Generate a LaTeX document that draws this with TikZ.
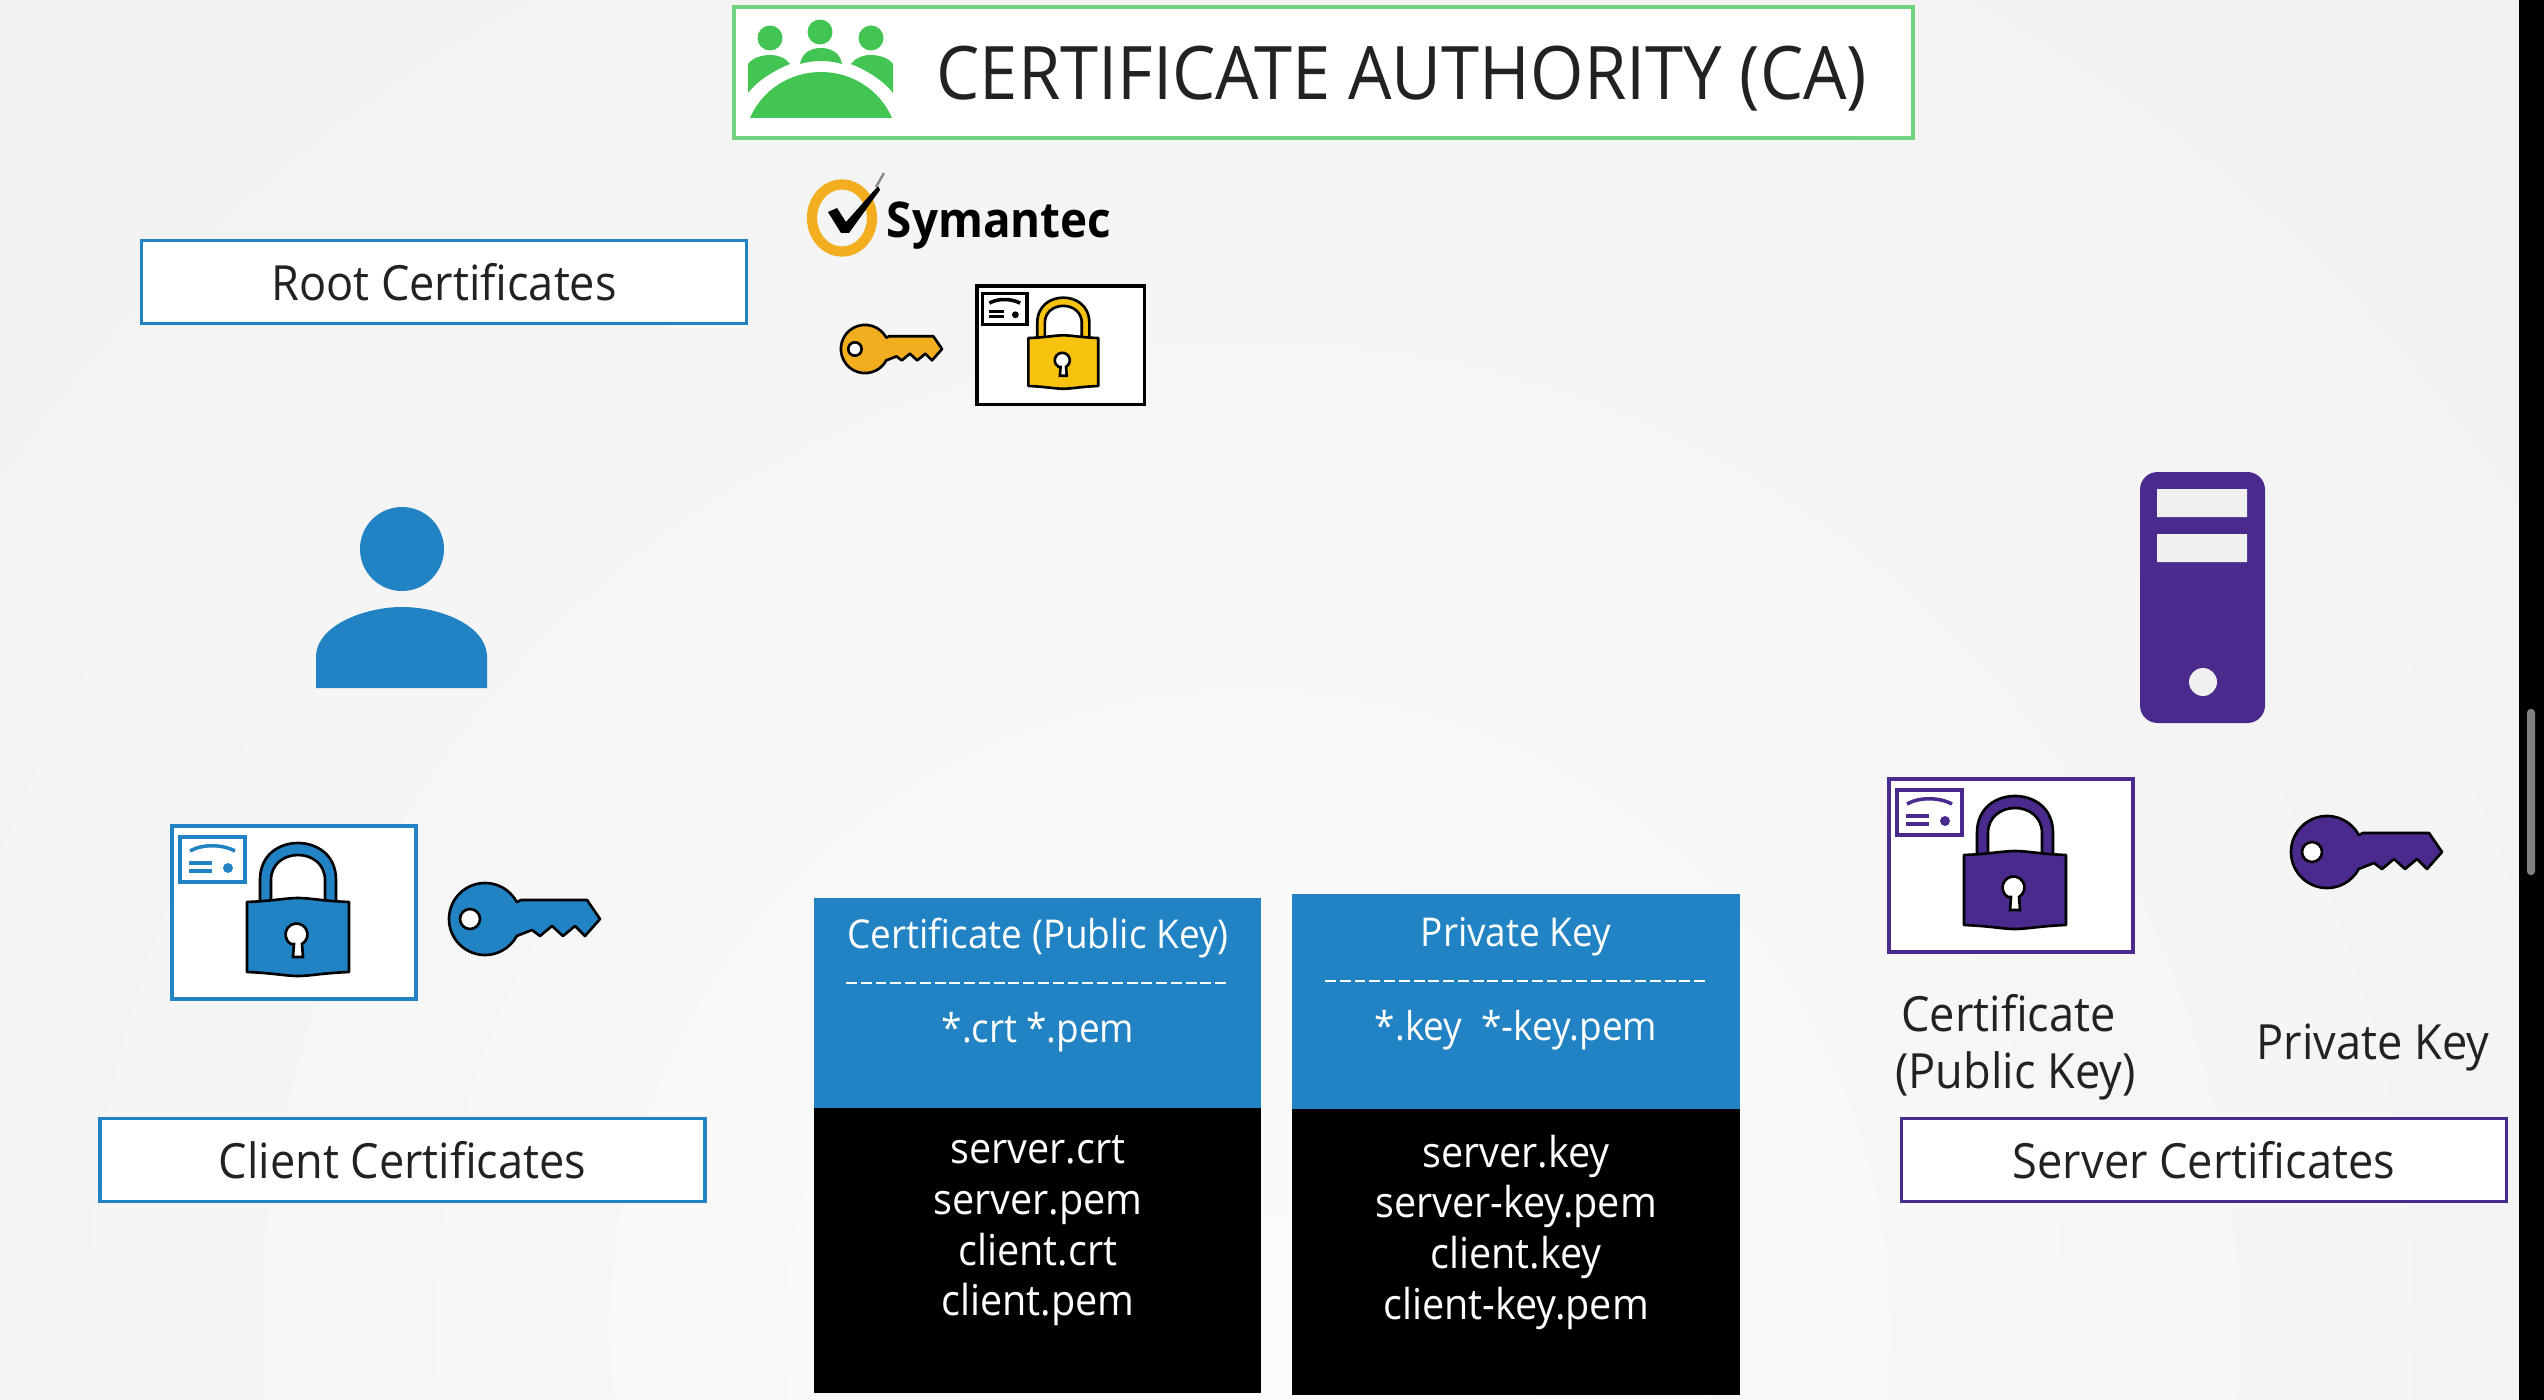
\documentclass[tikz,border=0pt]{standalone}
\usepackage{fontspec}
\setmainfont[FakeStretch=0.93]{Open Sans}
\usetikzlibrary{positioning}
\definecolor{caBlue}{HTML}{2183C3}
\definecolor{caPurple}{HTML}{4A2A8C}
\definecolor{caGreen}{HTML}{43C553}
\definecolor{caYellow}{HTML}{F8C30E}
\definecolor{caGold}{HTML}{F2AE1F}
\definecolor{caInk}{HTML}{222222}
\tikzset{
  lblbox/.style   = {draw=#1, fill=white, line width=0.9pt, minimum width=172pt, text=caInk,
                     minimum height=23.5pt, inner sep=0pt, font=\fontsize{13.8}{16}\selectfont},
  cellhead/.style = {white, font=\fontsize{11.3}{14}\selectfont},
  cellfile/.style = {white, font=\fontsize{12.1}{14.4}\selectfont, align=center},
  lbl/.style      = {text=caInk, font=\fontsize{13.8}{16.2}\selectfont, align=center},
  celldash/.style = {white, line width=0.8pt, dash pattern=on 3.1pt off 1.1pt},
  pics/keyicon/.style = {code={
    \draw[fill=#1, line width=0.75pt, line join=round]
      (31.8,-16.9) arc[start angle=-28, end angle=-332, radius=36]
      -- (47,11) -- (55,17) -- (67,7) -- (78,17) -- (90,7) -- (100,17)
      -- (115,0) -- (102,-19) -- (36,-19) -- cycle;
    \draw[fill=white, line width=0.75pt] (-15,0) circle (10);
  }},
  pics/certicon/.style 2 args = {code={
    \draw[#1, fill=white, line width=0.9pt] (0,0) rectangle (244,173);
    % small card in the corner
    \draw[#1, line width=1pt] (8,11) rectangle (73,56);
    \draw[#1, line width=1pt] (18,25) .. controls (30,18) and (50,18) .. (63,25);
    \draw[#1, line width=0.9pt] (17,37) -- (40,37) (17,45) -- (40,45);
    \fill[#1] (56,42) circle (5);
    % padlock
    \begin{scope}[shift={(126,76)}]
      \draw[fill=#2, line width=0.75pt, line join=round]
        (-38,0) -- (-38,-22) .. controls (-38,-48) and (-18,-59) .. (0,-59)
        .. controls (18,-59) and (38,-48) .. (38,-22) -- (38,0) -- (27,0) -- (27,-22)
        .. controls (27,-38) and (14,-47) .. (0,-47) .. controls (-14,-47) and (-27,-38) .. (-27,-22)
        -- (-27,0) -- cycle;
      \draw[fill=#2, line width=0.75pt, line join=round]
        (-51,0) .. controls (-25,-1) and (-12,-4) .. (0,-4) .. controls (12,-4) and (25,-1) .. (51,0)
        -- (51,70) .. controls (25,71) and (12,74) .. (0,74) .. controls (-12,74) and (-25,71) .. (-51,70) -- cycle;
      \draw[fill=white, line width=0.75pt] (-4,42) -- (-5,55) -- (5,55) -- (4,42)
        arc[start angle=60, end angle=-240, radius=11] -- cycle;
    \end{scope}
  }},
}
\begin{document}
\begin{tikzpicture}[x=0.01cm,y=-0.01cm]
  \useasboundingbox (0,0) rectangle (2544,1400);
  \fill[black!6] (0,0) rectangle (2544,1400);
  \begin{scope}
    \clip (0,0) rectangle (2544,1400);
    \shade[inner color=black!1.5, outer color=black!6] (1250,1330) circle (2000);
  \end{scope}
  \fill[black] (2519,0) rectangle (2544,1400);
  \fill[black!50, rounded corners=1pt] (2527,709) rectangle (2535,875);

  % title
  \node[draw=caGreen!75, fill=white, line width=1pt, minimum width=1179*0.01cm, minimum height=131*0.01cm,
        inner sep=0pt] (titlebox) at (1323.5,72.5) {};
  \node[anchor=base, text=caInk, font=\fontsize{21}{24}\selectfont] (titletxt) at (1402,100) {CERTIFICATE AUTHORITY (CA)};
  \fill[caGreen] (820,32) circle (12.5) (770,38) circle (12.5) (871,38) circle (12.5);
  \fill[caGreen] (800,64) .. controls (802,52) and (812,48) .. (821,48) .. controls (830,48) and (840,52) .. (842,64)
    .. controls (828,60) and (814,60) .. (800,64) -- cycle;
  \fill[caGreen] (748,93) -- (748,64) .. controls (752,58) and (762,55) .. (770,55)
    .. controls (778,55) and (786,58) .. (790,64) .. controls (775,70) and (758,80) .. (748,93) -- cycle;
  \fill[caGreen] (893,93) -- (893,64) .. controls (889,58) and (879,55) .. (871,55)
    .. controls (863,55) and (855,58) .. (851,64) .. controls (866,70) and (883,80) .. (893,93) -- cycle;
  \fill[caGreen] (750,118) .. controls (762,90) and (790,72) .. (821,72)
    .. controls (852,72) and (880,90) .. (892,118) -- cycle;

  % vendor mark
  \draw[caGold, line width=2.9pt] (842,218) ellipse (30 and 33.5);
  \fill[black] (828,212) -- (837,208) -- (846,222) -- (878,186) -- (880,190) -- (849,233) -- (841,233) -- cycle;
  \draw[black!45, line width=0.7pt] (876,187) -- (884,173);
  \node[anchor=base, font=\bfseries\fontsize{14}{18}\selectfont] (vendor) at (999,238) {Symantec};
  \pic[scale=0.67] at (865,349) {keyicon=caGold};
  \pic[scale=0.685] at (977,286) {certicon={black}{caYellow}};

  \node[lblbox=caBlue] (rootbox) at (444,282) {Root Certificates};

  % client side
  \fill[caBlue] (402,549) circle (42);
  \fill[caBlue] (316,688) -- (316,655) .. controls (318,625) and (365,607) .. (402,607)
    .. controls (440,607) and (485,625) .. (487,655) -- (487,688) -- cycle;
  \pic at (172,826) {certicon={caBlue}{caBlue}};
  \pic at (485,919) {keyicon=caBlue};
  \node[lblbox=caBlue] (clientbox) at (402.5,1160) {Client Certificates};

  % server side
  \fill[caPurple, rounded corners=5pt] (2140,472) rectangle (2265,723);
  \fill[black!6] (2157,489) rectangle (2247,517) (2157,534) rectangle (2247,562) (2203,682) circle (14);
  \pic at (1889,779) {certicon={caPurple}{caPurple}};
  \pic at (2327,852) {keyicon=caPurple};
  \node[lbl] (certlbl) at (2012,1047) {Certificate\kern2pt\\\hspace*{2pt}(Public Key)};
  \node[lbl] (keylbl) at (2373,1048) {Private Key};
  \node[lblbox=caPurple] (serverbox) at (2204,1160) {Server Certificates};

  % file name tables
  \fill[caBlue] (814,898) rectangle (1261,1108);
  \fill[black] (814,1108) rectangle (1261,1393);
  \fill[caBlue] (1292,894) rectangle (1740,1109);
  \fill[black] (1292,1109) rectangle (1740,1395);
  \node[cellhead, anchor=base] (pubhead) at (1038,948) {Certificate (Public Key)};
  \draw[celldash] (846,983) -- (1230,983);
  \node[cellhead, anchor=base] (pubext) at (1038,1042) {*.crt\hspace{2.5pt}*.pem};
  \node[cellfile] (pubfiles) at (1038,1231) {server.crt\\server.pem\\client.crt\\client.pem};
  \node[cellhead, anchor=base] (privhead) at (1516,946) {Private Key};
  \draw[celldash] (1325,981) -- (1707,981);
  \node[cellhead, anchor=base] (privext) at (1516,1040) {*.key\ \ *-key.pem};
  \node[cellfile] (privfiles) at (1516,1232) {server.key\\server-key.pem\\client.key\\client-key.pem};
\end{tikzpicture}
\end{document}
